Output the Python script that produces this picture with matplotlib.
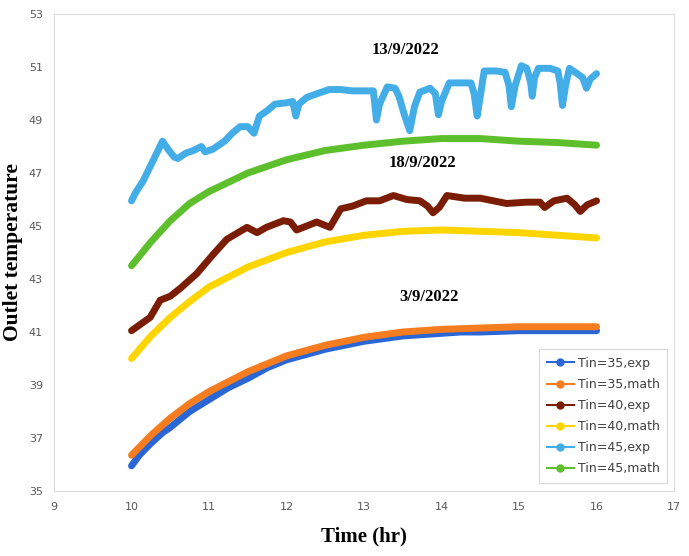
import matplotlib
matplotlib.use('Agg')
import matplotlib.pyplot as plt

# smooth model curves share one time grid
t_math = [10, 10.25, 10.5, 10.75, 11, 11.5, 12, 12.5, 13, 13.5, 14, 14.5, 15, 15.5, 16]
tin35_math = [36.35, 37.1, 37.75, 38.3, 38.75, 39.5, 40.1, 40.5, 40.8, 41.0, 41.1, 41.15, 41.2, 41.2, 41.2]
tin40_math = [40.0, 40.85, 41.55, 42.15, 42.7, 43.45, 44.0, 44.4, 44.65, 44.8, 44.85, 44.8, 44.75, 44.65, 44.55]
tin45_math = [43.5, 44.4, 45.2, 45.85, 46.3, 47.0, 47.5, 47.85, 48.05, 48.2, 48.3, 48.3, 48.2, 48.15, 48.05]

# measured curves
t35_exp = [10, 10.1, 10.25, 10.4, 10.5, 10.75, 11, 11.25, 11.5, 11.75, 12, 12.25, 12.5, 12.75,
           13, 13.25, 13.5, 13.75, 14, 14.25, 14.5, 15, 15.5, 16]
tin35_exp = [35.95, 36.35, 36.8, 37.2, 37.4, 38.0, 38.45, 38.9, 39.25, 39.65, 39.95, 40.15, 40.35, 40.5,
             40.65, 40.75, 40.85, 40.9, 40.95, 41.0, 41.0, 41.05, 41.05, 41.05]

t40_exp = [10.0, 10.24, 10.37, 10.5, 10.63, 10.84, 11.06, 11.23, 11.49, 11.62, 11.74, 11.96, 12.05, 12.13,
           12.39, 12.56, 12.7, 12.85, 13.03, 13.2, 13.38, 13.55, 13.72, 13.82, 13.89, 13.97, 14.07, 14.3,
           14.5, 14.84, 15.1, 15.27, 15.33, 15.45, 15.62, 15.72, 15.79, 15.88, 16.0]
tin40_exp = [41.05, 41.55, 42.2, 42.35, 42.65, 43.2, 43.95, 44.5, 44.95, 44.75, 44.95, 45.2, 45.15, 44.85,
             45.15, 44.95, 45.65, 45.75, 45.95, 45.95, 46.15, 46.0, 45.95, 45.75, 45.5, 45.7, 46.15, 46.05,
             46.05, 45.85, 45.9, 45.9, 45.7, 45.95, 46.05, 45.8, 45.55, 45.8, 45.95]

t45_exp = [10.0, 10.05, 10.15, 10.25, 10.35, 10.4, 10.47, 10.55, 10.6, 10.7, 10.8, 10.9, 10.95, 11.05,
           11.2, 11.3, 11.4, 11.5, 11.58, 11.65, 11.75, 11.85, 12.0, 12.08, 12.12, 12.16, 12.26, 12.4,
           12.55, 12.7, 12.85, 13.0, 13.12, 13.16, 13.2, 13.3, 13.4, 13.45, 13.52, 13.59, 13.65, 13.72,
           13.85, 13.92, 13.96, 14.0, 14.1, 14.25, 14.38, 14.42, 14.46, 14.5, 14.55, 14.7, 14.82, 14.87,
           14.9, 14.95, 15.03, 15.1, 15.15, 15.17, 15.2, 15.25, 15.4, 15.5, 15.53, 15.56, 15.6, 15.65,
           15.75, 15.82, 15.87, 15.92, 16.0]
tin45_exp = [45.95, 46.25, 46.7, 47.3, 47.9, 48.2, 47.9, 47.6, 47.55, 47.75, 47.85, 48.0, 47.8, 47.9,
             48.2, 48.5, 48.75, 48.75, 48.5, 49.15, 49.35, 49.6, 49.65, 49.7, 49.15, 49.6, 49.85, 50.0,
             50.15, 50.15, 50.1, 50.1, 50.1, 49.0, 49.6, 50.25, 50.2, 49.9, 49.2, 48.6, 49.5, 50.05,
             50.2, 50.0, 49.2, 49.7, 50.4, 50.4, 50.4, 50.0, 49.15, 49.9, 50.85, 50.85, 50.8, 50.3,
             49.5, 50.3, 51.05, 50.95, 50.4, 49.9, 50.6, 50.95, 50.95, 50.85, 50.4, 49.55, 50.3, 50.95,
             50.75, 50.6, 50.2, 50.55, 50.75]

date_labels = ['13/9/2022', '18/9/2022', '3/9/2022']
date_x = [13.53, 13.76, 13.84]
date_y = [51.64, 47.38, 42.32]

fig = plt.figure(figsize=(6.89, 5.56), dpi=100)
ax = fig.add_axes([0.0784, 0.1169, 0.8999, 0.8579])

series = [
    (t35_exp, tin35_exp, 'Tin=35,exp', '#2a66d6'),
    (t_math, tin35_math, 'Tin=35,math', '#f57d1f'),
    (t40_exp, tin40_exp, 'Tin=40,exp', '#7b1d04'),
    (t_math, tin40_math, 'Tin=40,math', '#ffd500'),
    (t45_exp, tin45_exp, 'Tin=45,exp', '#43ade8'),
    (t_math, tin45_math, 'Tin=45,math', '#5dbf2b'),
]
handles = []
for x, y, name, c in series:
    ax.plot(x, y, color=c, lw=5, solid_capstyle='round', solid_joinstyle='round')
    # legend sample: thin line with a dot, like the original
    h, = ax.plot([], [], color=c, lw=1.5, marker='o', markersize=5, label=name)
    handles.append(h)

for s, x, y in zip(date_labels, date_x, date_y):
    ax.text(x, y, s, ha='center', va='center', fontsize=12, fontweight='bold',
            family='Liberation Serif')

ax.set_xlim(9, 17)
ax.set_ylim(35, 53)
ax.set_xticks(range(9, 18))
ax.set_yticks(range(35, 54, 2))
ax.tick_params(length=0, labelsize=8, labelcolor='#595959', pad=8)
for sp in ax.spines.values():
    sp.set_color('#dcdcdc')

ax.set_xlabel('Time (hr)', fontsize=15, fontweight='bold', family='Liberation Serif', labelpad=10)
ax.set_ylabel('Outlet temperature', fontsize=15.5, fontweight='bold', family='Liberation Serif', labelpad=4)

leg = ax.legend(handles=handles, loc='lower right', bbox_to_anchor=(0.989, 0.017),
                fontsize=9, fancybox=False, handlelength=2.2, labelspacing=0.65,
                borderpad=0.6, handletextpad=0.3, borderaxespad=0)
leg.get_frame().set_edgecolor('#d0d0d0')
leg.get_frame().set_linewidth(0.8)
for txt in leg.get_texts():
    txt.set_color('#404040')

fig.savefig('out.png', dpi=100)
